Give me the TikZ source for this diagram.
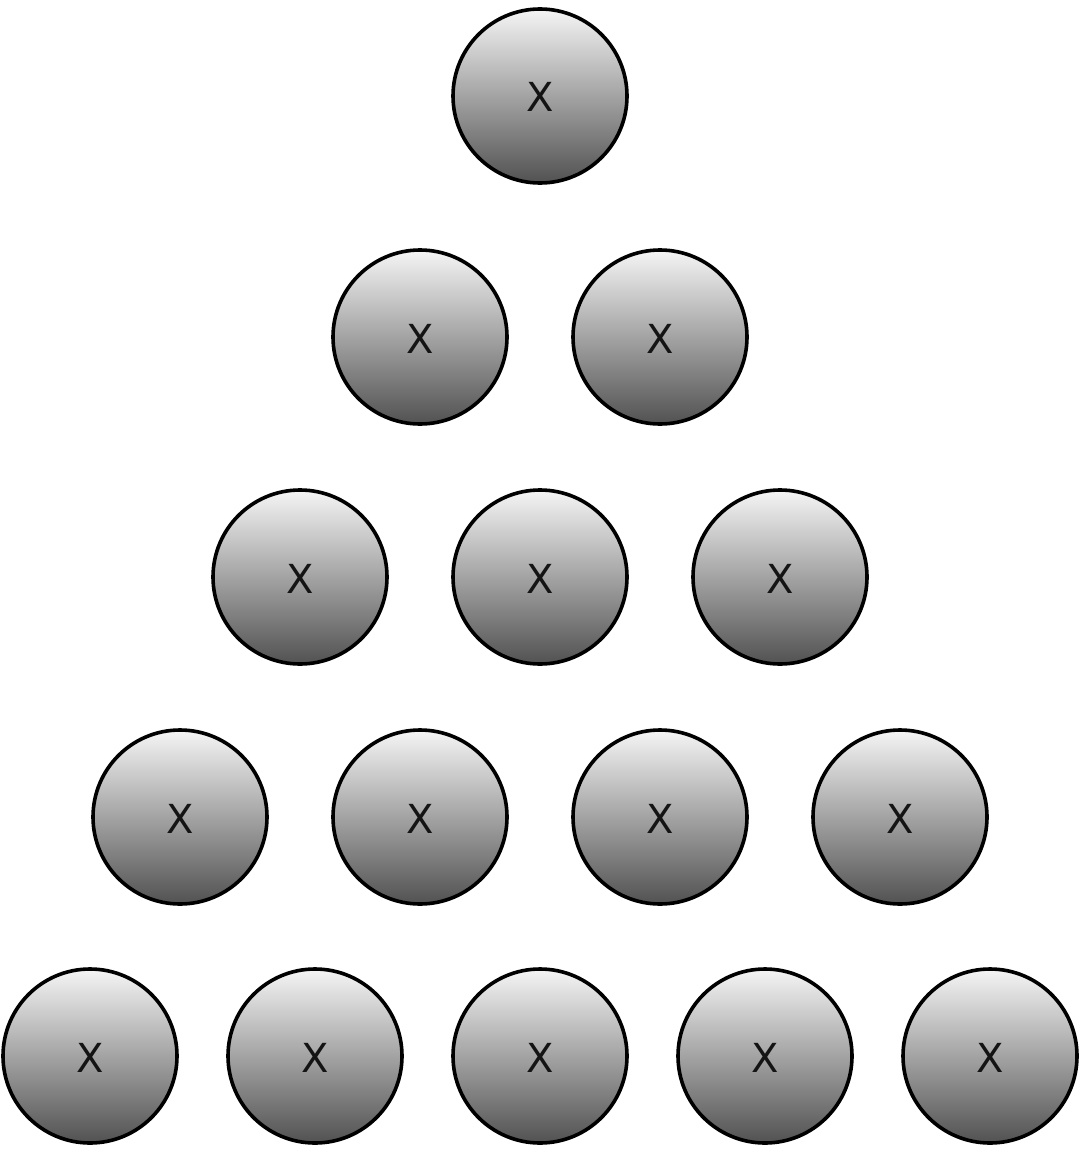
\documentclass[tikz,border=0pt]{standalone}
\usepackage{fontspec}
\setmainfont{DejaVu Sans}
\begin{document}
\begin{tikzpicture}[x=1pt,y=-1pt,
  ball/.style={circle, draw=black, line width=3.6pt, minimum size=174pt, inner sep=0pt,
    top color=gray!8, bottom color=black!68},
  mark x/.style={text=black!92, inner sep=0pt, font=\fontsize{40}{40}\selectfont}]
\useasboundingbox (0,0) rectangle (1080,1153);
\node[ball] (r1a) at (540,96) {};
\node[ball] (r2a) at (420,337) {};
\node[ball] (r2b) at (660,337) {};
\node[ball] (r3a) at (300,577) {};
\node[ball] (r3b) at (540,577) {};
\node[ball] (r3c) at (780,577) {};
\node[ball] (r4a) at (180,817) {};
\node[ball] (r4b) at (420,817) {};
\node[ball] (r4c) at (660,817) {};
\node[ball] (r4d) at (900,817) {};
\node[ball] (r5a) at (90,1056) {};
\node[ball] (r5b) at (315,1056) {};
\node[ball] (r5c) at (540,1056) {};
\node[ball] (r5d) at (765,1056) {};
\node[ball] (r5e) at (990,1056) {};
\foreach \n in {r1a,r2a,r2b,r3a,r3b,r3c,r4a,r4b,r4c,r4d,r5a,r5b,r5c,r5d,r5e}
  \node[mark x, anchor=base, yshift=-16pt] (\n-x) at (\n.center) {X};
\end{tikzpicture}
\end{document}
